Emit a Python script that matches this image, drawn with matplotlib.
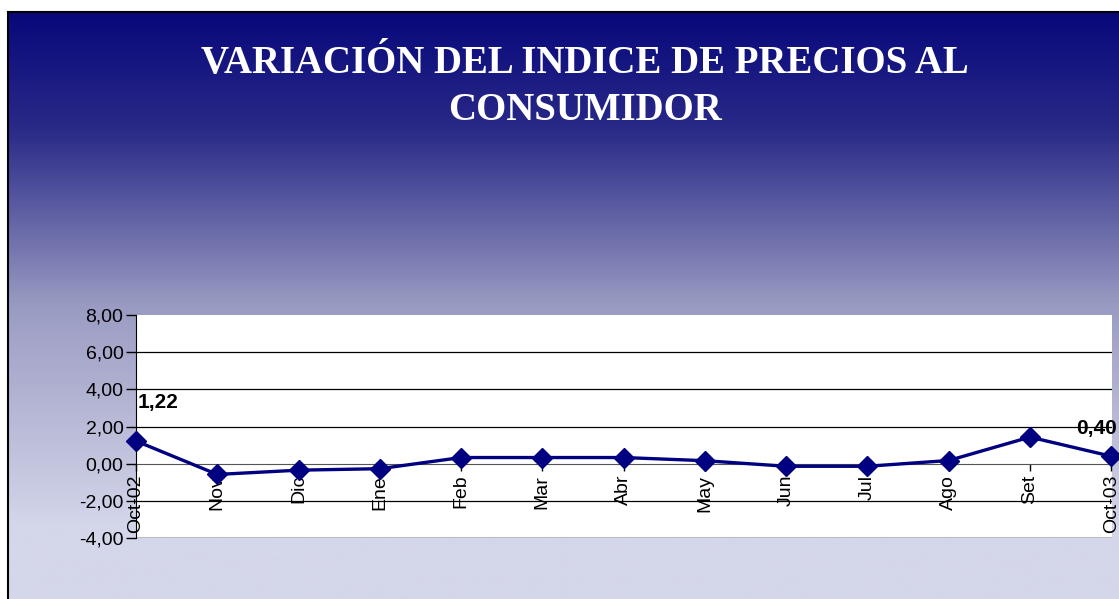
import matplotlib
matplotlib.use("Agg")
import matplotlib.pyplot as plt
import numpy as np
from matplotlib.colors import LinearSegmentedColormap
from matplotlib.ticker import FuncFormatter

# datos
meses = ["Oct-02", "Nov", "Dic", "Ene", "Feb", "Mar", "Abr", "May",
         "Jun", "Jul", "Ago", "Set", "Oct-03"]
ipc = [1.22, -0.58, -0.35, -0.27, 0.33, 0.33, 0.33, 0.16,
       -0.14, -0.14, 0.17, 1.43, 0.40]
yticks = [-4, -2, 0, 2, 4, 6, 8]

W, H = 1119, 599
fig = plt.figure(figsize=(W / 100, H / 100), dpi=100)
fig.patch.set_facecolor("white")

# fondo degradado
bg = fig.add_axes([8 / W, 0, 1 - 8 / W, (H - 12) / H])
cmap = LinearSegmentedColormap.from_list(
    "fondo", [(0.0, "#08087c"), (0.2, "#2a2a88"), (0.5, "#9a9bc2"),
              (0.88, "#d4d6ea"), (1.0, "#d4d6ea")])
grad = np.linspace(0, 1, 300).reshape(-1, 1)
bg.imshow(grad, aspect="auto", cmap=cmap, extent=[0, 1, 0, 1], origin="upper")
bg.set_xlim(0, 1)
bg.set_ylim(0, 1)
bg.axis("off")

# bordes
fig.add_artist(plt.Line2D([8 / W, 1], [(H - 12) / H, (H - 12) / H], color="black", lw=1.5))
fig.add_artist(plt.Line2D([8 / W, 8 / W], [0, (H - 12) / H], color="black", lw=1.5))

for txt, yy in [("VARIACIÓN DEL INDICE DE PRECIOS AL", 63), ("CONSUMIDOR", 111)]:
    fig.text(0.523, (H - yy) / H, txt, ha="center", va="center", color="white",
             fontsize=28, fontweight="bold", family="Liberation Serif")

x0, x1 = 136, 1112
y0, y1 = 315, 538
ax = fig.add_axes([x0 / W, (H - y1) / H, (x1 - x0) / W, (y1 - y0) / H])
ax.set_facecolor("white")
x = np.arange(len(meses))
ax.plot(x, ipc, color="#000080", lw=2.4, marker="D", markersize=10,
        markerfacecolor="#000080", markeredgecolor="#000080", zorder=5, clip_on=False)
ax.set_xlim(0, 12.01)
ax.set_ylim(-4, 8)
ax.set_yticks(yticks)
ax.yaxis.set_major_formatter(FuncFormatter(lambda v, p: f"{v:.2f}".replace(".", ",")))
for g in [-2, 2, 4, 6]:
    ax.axhline(g, color="black", lw=0.9, zorder=1)
ax.axhline(-4, color="#bbbbbb", lw=1.5, zorder=1)

ax.spines["top"].set_visible(False)
ax.spines["right"].set_visible(False)
ax.spines["left"].set_color("black")
ax.spines["bottom"].set_position(("data", 0))
ax.spines["bottom"].set_color("#555555")
ax.spines["bottom"].set_zorder(2)

ax.set_xticks(x)
ax.set_xticklabels(meses, rotation=90, fontsize=14, family="Liberation Sans", va="top")
ax.tick_params(axis="x", direction="out", length=5, width=1, pad=3, colors="black")
ax.tick_params(axis="y", direction="out", length=7, width=1, labelsize=14, pad=2)
for lab in ax.get_yticklabels():
    lab.set_family("Liberation Sans")

ax.annotate("1,22", (0, ipc[0]), xytext=(1, 28), textcoords="offset points",
            ha="left", va="center", fontsize=15, fontweight="bold",
            family="Liberation Sans", annotation_clip=False)
ax.annotate("0,40", (12, ipc[12]), xytext=(4, 20), textcoords="offset points",
            ha="right", va="center", fontsize=15, fontweight="bold",
            family="Liberation Sans", annotation_clip=False)

fig.savefig("out.png", dpi=100)
